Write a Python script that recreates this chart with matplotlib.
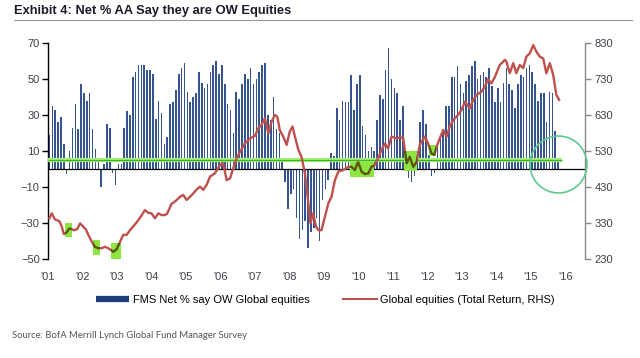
import numpy as np
import matplotlib
matplotlib.use("Agg")
import matplotlib.pyplot as plt
from matplotlib.patches import Rectangle
from matplotlib.lines import Line2D

# FMS net % say OW global equities, monthly from Jan 2001
fms_net = [19, 35, 33, 26, 29, 14, -3, 10, 23, 36, 22, 47,
           42, 38, 42, 22, 11, 6, -10, 3, 25, 23, -2, -9,
           3, 3, 23, 32, 30, 51, 54, 58, 58, 58, 55, 55,
           53, 28, 38, 31, 14, 18, 36, 37, 44, 53, 56, 59,
           43, 37, 40, 42, 54, 48, 45, 47, 54, 58, 60, 53,
           58, 47, 36, 33, 20, 43, 39, 47, 53, 50, 56, 47,
           50, 54, 58, 59, 30, 27, 40, 22, 20, 6, -7, -22,
           -14, -11, -27, -39, -34, -29, -44, -35, -33, -27, -40, -17,
           -11, -6, 9, 7, 34, 27, 38, 37, 37, 52, 33, 47,
           52, 24, 19, 10, 12, 10, 27, 41, 39, 55, 67, 50,
           45, 42, 27, 35, 3, -5, -7, -4, 10, 26, 33, 25,
           8, -4, -2, 12, 18, 22, 35, 35, 51, 51, 57, 47,
           42, 49, 52, 57, 60, 50, 52, 54, 51, 56, 46, 37,
           45, 37, 48, 56, 47, 44, 34, 47, 52, 51, 56, 58,
           54, 47, 38, 42, 42, 26, 43, 42, 21, 5]

# global equities total return index (RHS)
eq_t = [2001.04, 2001.11, 2001.20, 2001.33, 2001.40, 2001.46, 2001.54, 2001.62, 2001.69, 2001.75,
        2001.85, 2001.93, 2002.02, 2002.10, 2002.17, 2002.27, 2002.36, 2002.46, 2002.56, 2002.65,
        2002.75, 2002.89, 2002.99, 2003.09, 2003.18, 2003.28, 2003.40, 2003.52, 2003.62, 2003.72,
        2003.81, 2003.91, 2004.00, 2004.10, 2004.20, 2004.29, 2004.39, 2004.46, 2004.58, 2004.71,
        2004.83, 2004.92, 2005.02, 2005.12, 2005.21, 2005.31, 2005.41, 2005.50, 2005.60, 2005.70,
        2005.84, 2005.99, 2006.08, 2006.18, 2006.28, 2006.37, 2006.47, 2006.57, 2006.71, 2006.86,
        2007.00, 2007.10, 2007.19, 2007.29, 2007.39, 2007.48, 2007.58, 2007.65, 2007.72, 2007.82,
        2007.92, 2008.01, 2008.09, 2008.16, 2008.26, 2008.35, 2008.45, 2008.55, 2008.61, 2008.69,
        2008.77, 2008.84, 2008.93, 2009.03, 2009.13, 2009.22, 2009.32, 2009.42, 2009.56, 2009.71,
        2009.80, 2009.90, 2009.99, 2010.09, 2010.19, 2010.29, 2010.38, 2010.48, 2010.57, 2010.67,
        2010.77, 2010.86, 2010.96, 2011.10, 2011.20, 2011.30, 2011.40, 2011.49, 2011.59, 2011.69,
        2011.78, 2011.93, 2012.02, 2012.12, 2012.20, 2012.27, 2012.36, 2012.46, 2012.56, 2012.65,
        2012.75, 2012.89, 2012.99, 2013.09, 2013.23, 2013.33, 2013.43, 2013.57, 2013.67, 2013.76,
        2013.86, 2013.96, 2014.10, 2014.25, 2014.29, 2014.39, 2014.49, 2014.58, 2014.68, 2014.78,
        2014.87, 2014.97, 2015.07, 2015.16, 2015.26, 2015.36, 2015.45, 2015.55, 2015.65, 2015.74,
        2015.82]
eq_v = [343, 357, 340, 335, 320, 299, 304, 315, 313, 310,
        313, 329, 320, 312, 297, 278, 264, 260, 260, 264,
        260, 250, 257, 278, 297, 297, 313, 326, 338, 352,
        366, 358, 357, 343, 357, 352, 352, 357, 383, 392,
        403, 408, 394, 403, 412, 423, 431, 422, 436, 459,
        468, 491, 496, 449, 454, 482, 510, 528, 551, 565,
        572, 593, 602, 621, 579, 611, 630, 625, 588, 570,
        547, 584, 598, 570, 533, 514, 468, 385, 329, 357,
        320, 310, 310, 348, 385, 403, 449, 473, 477, 486,
        486, 477, 500, 473, 466, 468, 486, 491, 510, 533,
        551, 537, 570, 565, 568, 565, 496, 514, 486, 500,
        547, 570, 551, 523, 519, 542, 565, 588, 570, 598,
        616, 630, 644, 667, 649, 672, 686, 695, 709, 729,
        718, 736, 769, 783, 779, 746, 774, 746, 769, 760,
        792, 801, 824, 806, 792, 787, 746, 774, 741, 686,
        672]

years = list(range(2001, 2017))
year_labels = ["'%02d" % (y % 100) for y in years]
left_ticks = [70, 50, 30, 10, -10, -30, -50]
right_ticks = [830, 730, 630, 530, 430, 330, 230]

# highlighted troughs: (start, end, low, high) in LHS units
hl_boxes = [(2001.49, 2001.70, -37.8, -30.0),
            (2002.30, 2002.51, -47.8, -39.4),
            (2002.83, 2003.12, -50.0, -41.0),
            (2009.75, 2010.45, -4.3, 4.0),
            (2011.32, 2011.69, -0.9, 10.2),
            (2012.04, 2012.25, 7.2, 13.3)]
threshold = 5

navy = '#1f3d7a'
bar_col = '#36558f'
red = '#c0504d'
tick_col = '#404048'

fig = plt.figure(figsize=(6.4, 3.58), dpi=100)
ax = fig.add_axes([0.075, 0.2765, 0.839, 0.6035])
ax2 = ax.twinx()

bar_x = 2001 + (np.arange(len(fms_net)) + 0.5) / 12.0
ax.bar(bar_x, fms_net, width=0.045, color=bar_col, linewidth=0, zorder=2)
ax.axhline(0, color='black', lw=0.9, zorder=3)
ax.plot([2001.0, 2015.9], [threshold, threshold], color='#a6f07a', lw=3.0,
        solid_capstyle='butt', zorder=4)
ax.plot([2001.0, 2015.9], [threshold, threshold], color='#3cb81a', lw=0.9,
        solid_capstyle='butt', zorder=5)

ax2.plot(eq_t, eq_v, color=red, lw=1.7, zorder=3)
for x0, x1, y0, y1 in hl_boxes:
    r = Rectangle((x0, y0), x1 - x0, y1 - y0, transform=ax.transData,
                  facecolor='#8ee53f', edgecolor='none', zorder=4)
    ax2.add_patch(r)
    ln, = ax2.plot(eq_t, eq_v, color='#5a5510', lw=1.7, zorder=5)
    ln.set_clip_path(r)

ax2.plot([2015.78], [2.5], 'o', ms=41, mfc='none', mec='#5ec98a', mew=1.2,
         transform=ax.transData, zorder=6, clip_on=False)

ax.set_xlim(2001.0, 2016.57)
ax.set_ylim(-50, 70)
ax2.set_ylim(230, 830)

ax.set_xticks(years)
ax.set_xticklabels(year_labels)
ax.set_yticks(left_ticks)
ax2.set_yticks(right_ticks)

for s in ['top', 'right', 'bottom']:
    ax.spines[s].set_visible(False)
for s in ['top', 'left', 'bottom']:
    ax2.spines[s].set_visible(False)
ax.spines['left'].set_color('black')
ax.spines['left'].set_linewidth(1.0)
ax2.spines['right'].set_color('#8a8a8a')
ax2.spines['right'].set_linewidth(1.0)

fam = ['Liberation Sans', 'DejaVu Sans']
ax.tick_params(axis='x', length=0, pad=9, labelsize=8, labelcolor=tick_col)
ax.tick_params(axis='y', length=4, width=1, direction='out', pad=2,
               labelsize=8, labelcolor=tick_col)
ax2.tick_params(axis='y', length=4, width=1, color='#8a8a8a', direction='out', pad=3,
                labelsize=8, labelcolor=tick_col)
for lab in ax.get_xticklabels() + ax.get_yticklabels() + ax2.get_yticklabels():
    lab.set_family(fam)

handles = [Line2D([], [], color=navy, lw=4.5, solid_capstyle='butt'),
           Line2D([], [], color=red, lw=1.5)]
fig.legend(handles, ['FMS Net % say OW Global equities',
                     'Global equities (Total Return, RHS)'],
           loc='center left', bbox_to_anchor=(0.143, 0.162), ncol=2,
           frameon=False, handlelength=3.0, handletextpad=0.35,
           columnspacing=3.0, borderaxespad=0,
           prop={'family': fam, 'size': 8})

fig.text(0.022, 0.968, 'Exhibit 4: Net % AA Say they are OW Equities',
         family=['Liberation Sans Narrow', 'Liberation Sans', 'DejaVu Sans'],
         weight='bold', size=9.3, color='#1a1a2a', va='center', ha='left')
fig.add_artist(Line2D([0.022, 0.988], [0.945, 0.945], color='#9a9a9a', lw=0.8,
                      transform=fig.transFigure))
fig.text(0.019, 0.064, 'Source: BofA Merrill Lynch Global Fund Manager Survey',
         family=['Lato', 'DejaVu Sans'], size=6.8, color='#555555',
         va='center', ha='left')

fig.savefig('out.png', dpi=100)
